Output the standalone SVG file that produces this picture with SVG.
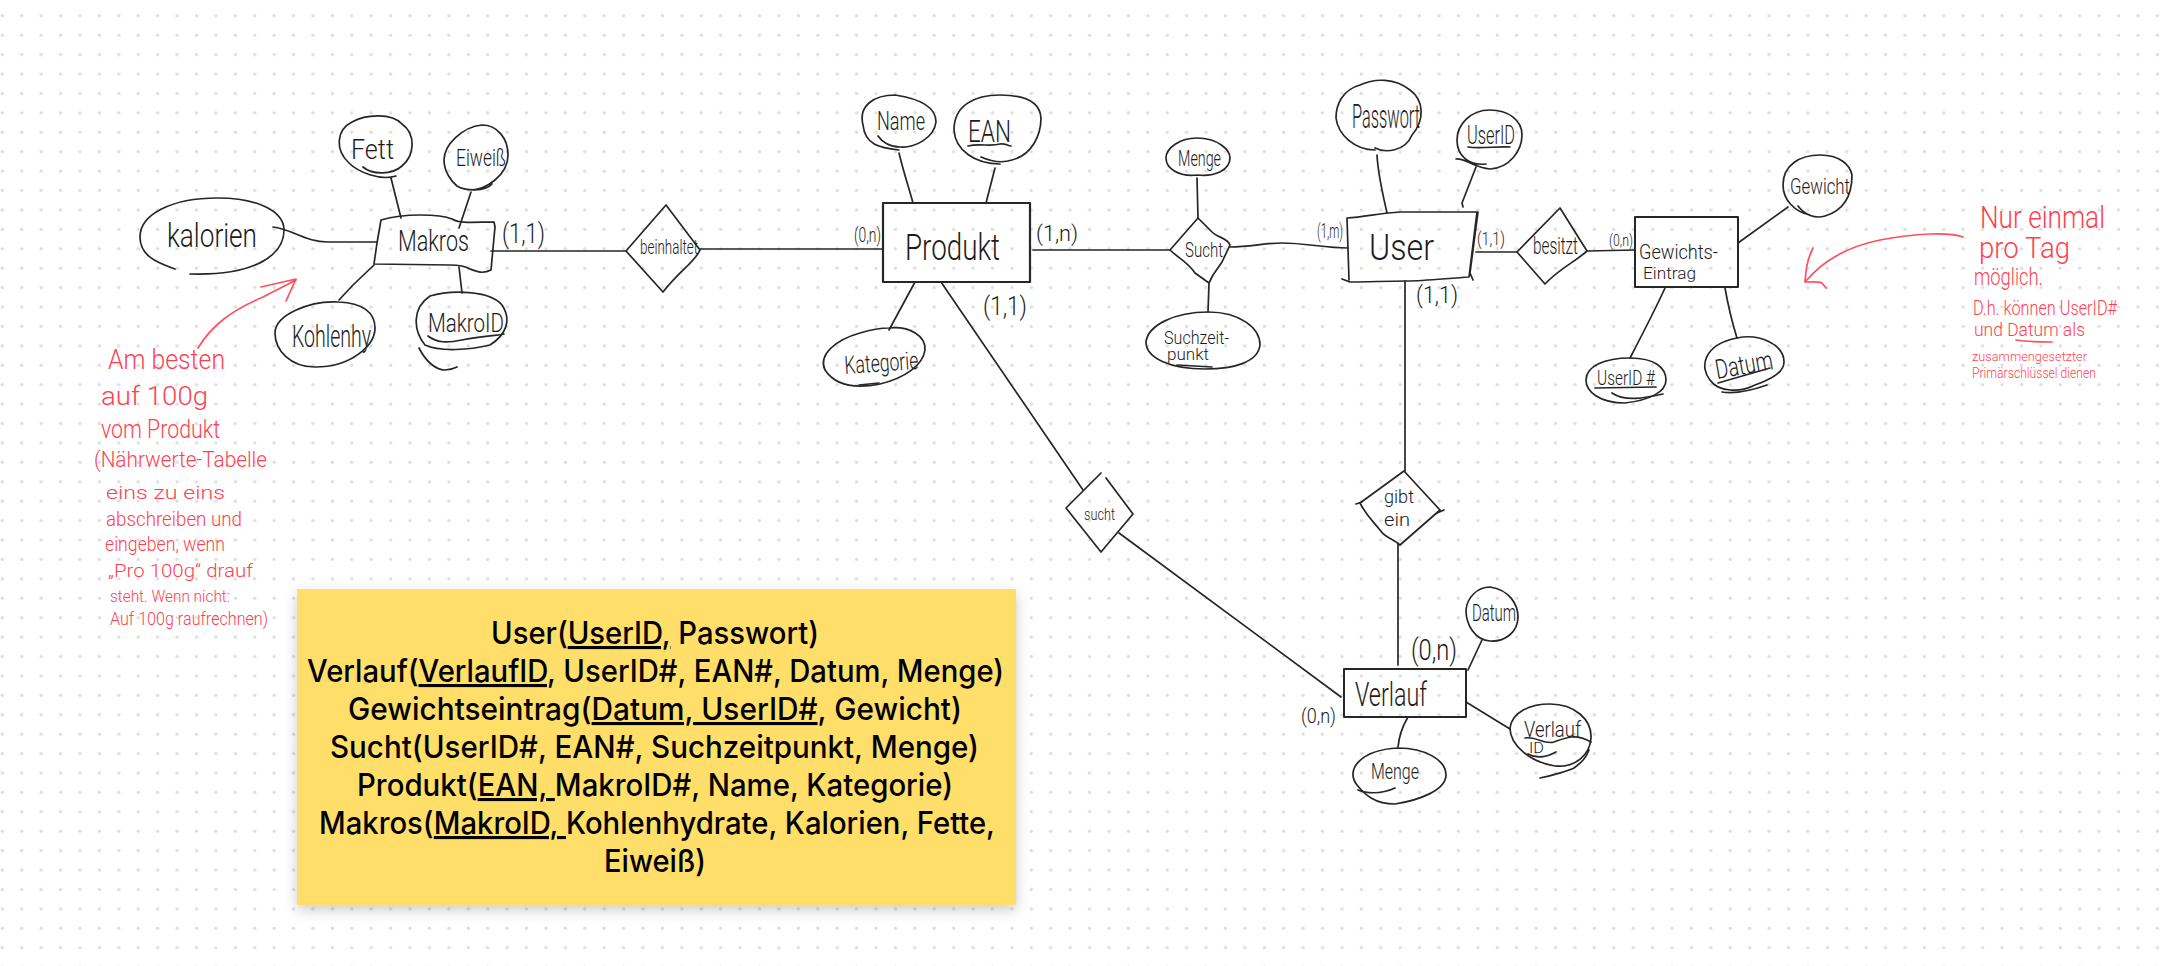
<svg xmlns="http://www.w3.org/2000/svg" width="2160" height="966" viewBox="0 0 2160 966">
<style>
.s{fill:none;stroke:#262626;stroke-width:1.7;stroke-linecap:round;stroke-linejoin:round}
.r{fill:none;stroke:#ff4f5e;stroke-width:1.7;stroke-linecap:round;stroke-linejoin:round}
.t{font-family:Roboto,"Liberation Sans",Arial,sans-serif;font-weight:300;fill:#1c1c1c}
.n{font-family:Roboto,"Liberation Sans",Arial,sans-serif;font-weight:300;fill:#ff3f50}
.c{font-family:Inter,"Liberation Sans",sans-serif;font-weight:500;font-size:31px;fill:#000;text-anchor:start}
.u{text-decoration:underline}
</style>
<defs>
<pattern id="dots" patternUnits="userSpaceOnUse" width="19.415" height="19.415"><circle cx="2.3" cy="15.75" r="1.7" fill="#dedede"/></pattern>
<filter id="sh" x="-5%" y="-8%" width="110%" height="120%"><feDropShadow dx="0" dy="5" stdDeviation="7" flood-color="#000" flood-opacity=".2"/></filter>
</defs>
<rect width="2160" height="966" fill="#fff"/>
<rect width="2160" height="966" fill="url(#dots)"/>

<g id="connectors">
<path class="s" d="M273 227C292 229 305 242 328 242L377 242"/>
<path class="s" d="M391 178L401 218"/>
<path class="s" d="M471 192L459 228"/>
<path class="s" d="M374 265L353 285L339 300"/>
<path class="s" d="M459 267L462 293"/>
<path class="s" d="M491 251L626 251"/>
<path class="s" d="M700 249L883 249"/>
<path class="s" d="M899 153C903 170 908 185 913 203"/>
<path class="s" d="M995 168L986 203"/>
<path class="s" d="M915 282L889 330"/>
<path class="s" d="M1033 250L1170 250"/>
<path class="s" d="M1197 178L1198 218"/>
<path class="s" d="M1209 283L1208 312"/>
<path class="s" d="M1230 247C1250 247 1265 243 1282 243C1305 243 1325 248 1348 248"/>
<path class="s" d="M1377 155C1378 175 1383 195 1387 213"/>
<path class="s" d="M1476 167L1462 203L1463 207"/>
<path class="s" d="M1476 252L1517 252"/>
<path class="s" d="M1587 251L1635 250"/>
<path class="s" d="M1738 243L1788 207"/>
<path class="s" d="M1665 288C1655 310 1642 335 1630 358"/>
<path class="s" d="M1725 288C1728 305 1732 322 1737 338"/>
<path class="s" d="M941 282L1083 490"/>
<path class="s" d="M1119 533L1341 697"/>
<path class="s" d="M1405 281L1405 471"/>
<path class="s" d="M1398 543L1398 665"/>
<path class="s" d="M1482 640L1468 670"/>
<path class="s" d="M1466 702L1510 729"/>
<path class="s" d="M1408 717C1402 727 1399 737 1398 747"/>
</g>

<g id="makros">
<path class="s" d="M381 220C395 216 405 215 420 215C435 215 445 216 452 219C460 224 475 222 494 222L495 227L491 270C483 274 478 272 470 269C465 266 460 265 450 265L374 264L377 243L381 220Z"/>
<text class="t" x="398" y="251" font-size="29" textLength="71" lengthAdjust="spacingAndGlyphs">Makros</text>
</g>
<g id="kalorien">
<path class="s" d="M175 269C155 262 140 255 140 237C140 215 170 198 218 198C255 198 284 210 284 230C284 255 255 276 190 274"/>
<text class="t" x="167" y="247" font-size="33" textLength="90" lengthAdjust="spacingAndGlyphs">kalorien</text>
</g>
<g id="fett">
<path class="s" d="M363 167C372 175 392 175 402 166C415 155 416 134 402 124C392 113 366 114 352 122C336 130 335 150 349 163C358 172 380 181 396 176"/>
<text class="t" x="351" y="159" font-size="28" textLength="43" lengthAdjust="spacingAndGlyphs">Fett</text>
</g>
<g id="eiweiss">
<path class="s" d="M470 190C486 190 508 175 508 155C508 138 497 125 482 125C462 127 444 145 444 160C444 172 452 182 457 186C465 191 485 192 492 184"/>
<text class="t" x="456" y="166" font-size="23" textLength="50" lengthAdjust="spacingAndGlyphs">Eiweiß</text>
</g>
<g id="kohlenhy">
<path class="s" d="M339 302C362 303 375 312 375 328C375 345 352 367 315 367C290 367 275 350 275 333C275 315 310 300 339 302Z"/>
<text class="t" x="292" y="347" font-size="32" textLength="79" lengthAdjust="spacingAndGlyphs">Kohlenhy</text>
</g>
<g id="makroid">
<path class="s" d="M430 296C450 290 490 290 502 305C512 320 506 335 490 345C470 350 440 352 425 345C413 330 412 308 430 296Z"/>
<path class="s" d="M419 348C425 360 435 370 445 370C450 370 455 368 457 367M428 336C437 343 447 343 462 340C480 336 495 336 504 334"/>
<text class="t" x="428" y="332" font-size="26" textLength="76" lengthAdjust="spacingAndGlyphs">MakroID</text>
</g>
<g id="beinhaltet">
<path class="s" d="M666 205L700 250C695 262 680 270 663 292L626 251L666 205Z"/>
<text class="t" x="640" y="254" font-size="20" textLength="58" lengthAdjust="spacingAndGlyphs">beinhaltet</text>
</g>
<g id="produkt">
<rect class="s" x="883" y="203" width="147" height="79" style="stroke-width:2.2"/>
<text class="t" x="905" y="260" font-size="37" textLength="95" lengthAdjust="spacingAndGlyphs">Produkt</text>
</g>
<g id="name">
<path class="s" d="M899 150C880 148 865 145 863 125C858 105 875 95 895 95C915 98 936 105 936 122C934 138 915 148 900 147C890 147 882 142 878 136"/>
<text class="t" x="877" y="130" font-size="25" textLength="48" lengthAdjust="spacingAndGlyphs">Name</text>
</g>
<g id="ean">
<path class="s" d="M981 157C990 161 1000 164 1012 160C1032 155 1041 135 1041 118C1040 102 1025 95 1000 95C975 95 954 105 954 130C955 150 975 164 1000 164"/>
<path class="s" d="M968 146C980 143 990 147 1000 144C1005 143 1008 146 1011 146"/>
<text class="t" x="968" y="142" font-size="31" textLength="43" lengthAdjust="spacingAndGlyphs">EAN</text>
</g>
<g id="kategorie">
<path class="s" d="M889 328C910 326 926 336 925 350C923 365 905 378 880 384C855 389 835 385 825 370C818 355 835 340 860 333C870 330 880 328 889 328Z"/>
<path class="s" d="M859 385L879 383"/>
<text class="t" x="845" y="374" font-size="25" textLength="74" lengthAdjust="spacingAndGlyphs" transform="rotate(-4 845 374)">Kategorie</text>
</g>
<g id="sucht">
<path class="s" d="M1198 218L1212 232C1218 238 1228 238 1230 245L1222 262L1213 275L1209 283L1195 273C1188 262 1178 258 1170 250L1198 218Z"/>
<text class="t" x="1185" y="257" font-size="20" textLength="38" lengthAdjust="spacingAndGlyphs">Sucht</text>
</g>
<g id="menge-sucht">
<path class="s" d="M1197 138C1218 138 1230 150 1230 158C1230 170 1215 177 1197 175C1178 177 1166 168 1166 158C1166 148 1180 138 1197 138Z"/>
<text class="t" x="1178" y="166" font-size="22" textLength="43" lengthAdjust="spacingAndGlyphs">Menge</text>
</g>
<g id="suchzeitpunkt">
<path class="s" d="M1208 312C1240 312 1260 328 1260 345C1258 362 1235 369 1205 369C1170 369 1146 358 1146 342C1148 325 1175 312 1208 312Z"/>
<path class="s" d="M1177 365L1212 367"/>
<text class="t" x="1164" y="344" font-size="18" textLength="65" lengthAdjust="spacingAndGlyphs">Suchzeit-</text>
<text class="t" x="1167" y="360" font-size="16" textLength="42" lengthAdjust="spacingAndGlyphs">punkt</text>
</g>
<g id="user">
<path class="s" d="M1347 218C1365 217 1380 213 1400 212L1478 212L1470 273L1473 280M1469 277C1450 278 1425 281 1407 281C1385 281 1370 282 1350 282L1342 279M1347 218L1349 280M1477 212L1469 277"/>
<text class="t" x="1369" y="260" font-size="36" textLength="65" lengthAdjust="spacingAndGlyphs">User</text>
</g>
<g id="passwort">
<path class="s" d="M1375 148C1385 153 1405 152 1412 135C1425 120 1424 100 1410 90C1395 78 1375 78 1360 85C1342 90 1336 105 1336 118C1338 135 1355 150 1375 150"/>
<text class="t" x="1352" y="128" font-size="33" textLength="68" lengthAdjust="spacingAndGlyphs">Passwort</text>
</g>
<g id="userid">
<path class="s" d="M1456 159C1465 158 1475 168 1490 169C1510 168 1522 150 1522 135C1522 120 1508 110 1490 110C1470 110 1457 125 1457 140C1457 155 1468 166 1486 164"/>
<path class="s" d="M1468 147C1480 149 1498 146 1510 147"/>
<text class="t" x="1467" y="144" font-size="26" textLength="48" lengthAdjust="spacingAndGlyphs">UserID</text>
</g>
<g id="besitzt">
<path class="s" d="M1560 208L1587 251C1575 262 1560 268 1545 284L1517 252L1560 208Z"/>
<text class="t" x="1533" y="254" font-size="24" textLength="45" lengthAdjust="spacingAndGlyphs">besitzt</text>
</g>
<g id="gewichtseintrag">
<rect class="s" x="1635" y="217" width="103" height="70" style="stroke-width:2"/>
<text class="t" x="1639" y="259" font-size="20" textLength="79" lengthAdjust="spacingAndGlyphs">Gewichts-</text>
<text class="t" x="1643" y="279" font-size="17" textLength="53" lengthAdjust="spacingAndGlyphs">Eintrag</text>
</g>
<g id="gewicht">
<path class="s" d="M1798 206C1805 215 1815 219 1825 216C1845 210 1852 195 1852 175C1850 165 1840 155 1820 155C1800 155 1783 165 1783 185C1783 200 1795 212 1810 215"/>
<text class="t" x="1790" y="194" font-size="22" textLength="60" lengthAdjust="spacingAndGlyphs">Gewicht</text>
</g>
<g id="userid-fk">
<path class="s" d="M1630 358C1655 358 1666 368 1666 380C1666 392 1650 400 1625 403C1600 403 1586 392 1586 380C1586 366 1605 358 1630 358Z"/>
<path class="s" d="M1612 393C1625 402 1645 398 1663 394M1595 388L1656 387"/>
<text class="t" x="1597" y="385" font-size="20" textLength="58" lengthAdjust="spacingAndGlyphs">UserID #</text>
</g>
<g id="datum-gewicht">
<path class="s" d="M1737 338C1760 333 1784 345 1784 362C1784 372 1770 380 1755 385C1740 393 1718 392 1710 380C1700 368 1702 345 1737 338Z"/>
<path class="s" d="M1722 392C1735 394 1750 391 1767 385M1718 383L1770 368"/>
<text class="t" x="1717" y="379" font-size="27" textLength="58" lengthAdjust="spacingAndGlyphs" transform="rotate(-10 1717 379)">Datum</text>
</g>
<g id="sucht-rel">
<path class="s" d="M1101 473L1066 508L1101 552L1133 514L1106 478"/>
<text class="t" x="1084" y="520" font-size="17" textLength="31" lengthAdjust="spacingAndGlyphs">sucht</text>
</g>
<g id="gibt-ein">
<path class="s" d="M1404 471L1440 510L1400 545C1392 538 1385 538 1380 530C1372 520 1366 515 1360 503L1404 471M1356 504L1362 502M1437 513L1444 510"/>
<text class="t" x="1384" y="503" font-size="18" textLength="30" lengthAdjust="spacingAndGlyphs">gibt</text>
<text class="t" x="1384" y="526" font-size="19" textLength="26" lengthAdjust="spacingAndGlyphs">ein</text>
</g>
<g id="verlauf">
<rect class="s" x="1344" y="669" width="122" height="48" style="stroke-width:2"/>
<text class="t" x="1355" y="706" font-size="33" textLength="72" lengthAdjust="spacingAndGlyphs">Verlauf</text>
</g>
<g id="datum-verlauf">
<path class="s" d="M1490 587C1510 590 1518 605 1518 617C1518 632 1505 642 1490 641C1475 640 1466 625 1466 610C1467 598 1477 587 1490 587Z"/>
<text class="t" x="1472" y="621" font-size="24" textLength="44" lengthAdjust="spacingAndGlyphs">Datum</text>
</g>
<g id="verlaufid">
<path class="s" d="M1550 704C1575 704 1592 720 1591 738C1590 755 1575 768 1555 766C1530 762 1510 745 1510 728C1512 712 1530 704 1550 704Z"/>
<path class="s" d="M1525 738C1535 736 1545 745 1554 742C1565 738 1575 733 1591 742M1540 778C1555 775 1570 770 1574 768C1582 762 1586 758 1589 750M1528 754C1535 758 1545 758 1556 752"/>
<text class="t" x="1524" y="737" font-size="22" textLength="57" lengthAdjust="spacingAndGlyphs">Verlauf</text>
<text class="t" x="1529" y="753" font-size="15" textLength="15" lengthAdjust="spacingAndGlyphs">ID</text>
</g>
<g id="menge-verlauf">
<path class="s" d="M1398 748C1425 748 1446 760 1446 775C1446 790 1420 800 1395 804C1375 804 1365 795 1357 785C1345 770 1360 750 1398 748Z"/>
<path class="s" d="M1358 790C1365 793 1380 795 1395 788"/>
<text class="t" x="1371" y="779" font-size="22" textLength="48" lengthAdjust="spacingAndGlyphs">Menge</text>
</g>

<g id="cardinalities">
<text class="t" x="502" y="243" font-size="27" textLength="43" lengthAdjust="spacingAndGlyphs">(1,1)</text>
<text class="t" x="854" y="242" font-size="21" textLength="27" lengthAdjust="spacingAndGlyphs">(0,n)</text>
<text class="t" x="1036" y="241" font-size="22" textLength="42" lengthAdjust="spacingAndGlyphs">(1,n)</text>
<text class="t" x="983" y="315" font-size="26" textLength="44" lengthAdjust="spacingAndGlyphs">(1,1)</text>
<text class="t" x="1317" y="238" font-size="20" textLength="26" lengthAdjust="spacingAndGlyphs">(1,m)</text>
<text class="t" x="1477" y="245" font-size="18" textLength="28" lengthAdjust="spacingAndGlyphs">(1,1)</text>
<text class="t" x="1609" y="246" font-size="17" textLength="24" lengthAdjust="spacingAndGlyphs">(0,n)</text>
<text class="t" x="1416" y="303" font-size="24" textLength="42" lengthAdjust="spacingAndGlyphs">(1,1)</text>
<text class="t" x="1411" y="660" font-size="30" textLength="46" lengthAdjust="spacingAndGlyphs">(0,n)</text>
<text class="t" x="1301" y="723" font-size="21" textLength="35" lengthAdjust="spacingAndGlyphs">(0,n)</text>
</g>

<g id="note-left">
<path class="r" d="M198 348C212 325 232 310 263 297L296 280M261 287L296 279L286 301"/>
<text class="n" x="108" y="369" font-size="27" textLength="117" lengthAdjust="spacingAndGlyphs">Am besten</text>
<text class="n" x="101" y="405" font-size="26" textLength="107" lengthAdjust="spacingAndGlyphs">auf 100g</text>
<text class="n" x="101" y="438" font-size="25" textLength="119" lengthAdjust="spacingAndGlyphs">vom Produkt</text>
<text class="n" x="94" y="467" font-size="22" textLength="173" lengthAdjust="spacingAndGlyphs">(Nährwerte-Tabelle</text>
<text class="n" x="106" y="499" font-size="19" textLength="119" lengthAdjust="spacingAndGlyphs">eins zu eins</text>
<text class="n" x="106" y="526" font-size="20" textLength="136" lengthAdjust="spacingAndGlyphs">abschreiben und</text>
<text class="n" x="105" y="551" font-size="20" textLength="120" lengthAdjust="spacingAndGlyphs">eingeben, wenn</text>
<text class="n" x="108" y="577" font-size="18" textLength="145" lengthAdjust="spacingAndGlyphs">„Pro 100g“ drauf</text>
<text class="n" x="110" y="602" font-size="16" textLength="120" lengthAdjust="spacingAndGlyphs">steht. Wenn nicht:</text>
<text class="n" x="110" y="625" font-size="19" textLength="158" lengthAdjust="spacingAndGlyphs">Auf 100g raufrechnen)</text>
</g>

<g id="note-right">
<path class="r" d="M1963 237C1950 232 1915 233 1880 240C1850 246 1825 258 1805 282M1813 248C1806 262 1806 272 1805 282C1812 282 1818 281 1822 283L1826 288"/>
<path class="r" d="M2016 340C2028 342 2040 342 2052 342"/>
<text class="n" x="1980" y="228" font-size="32" textLength="125" lengthAdjust="spacingAndGlyphs">Nur einmal</text>
<text class="n" x="1979" y="258" font-size="30" textLength="91" lengthAdjust="spacingAndGlyphs">pro Tag</text>
<text class="n" x="1974" y="285" font-size="23" textLength="69" lengthAdjust="spacingAndGlyphs">möglich.</text>
<text class="n" x="1973" y="315" font-size="21" textLength="144" lengthAdjust="spacingAndGlyphs">D.h. können UserID#</text>
<text class="n" x="1974" y="336" font-size="19" textLength="111" lengthAdjust="spacingAndGlyphs">und Datum als</text>
<text class="n" x="1972" y="361" font-size="13" textLength="115" lengthAdjust="spacingAndGlyphs">zusammengesetzter</text>
<text class="n" x="1972" y="378" font-size="14" textLength="124" lengthAdjust="spacingAndGlyphs">Primärschlüssel dienen</text>
</g>

<g id="schema-card">
<rect x="297" y="589" width="719" height="316" fill="#ffde69" filter="url(#sh)"/>
<text class="c" x="491" y="644" textLength="328" lengthAdjust="spacingAndGlyphs">User(<tspan class="u">UserID,</tspan> Passwort)</text>
<text class="c" x="307" y="682" textLength="697" lengthAdjust="spacingAndGlyphs">Verlauf(<tspan class="u">VerlaufID</tspan>, UserID#, EAN#, Datum, Menge)</text>
<text class="c" x="348" y="720" textLength="614" lengthAdjust="spacingAndGlyphs">Gewichtseintrag(<tspan class="u">Datum, UserID#</tspan>, Gewicht)</text>
<text class="c" x="330" y="758" textLength="649" lengthAdjust="spacingAndGlyphs">Sucht(UserID#, EAN#, Suchzeitpunkt, Menge)</text>
<text class="c" x="357" y="796" textLength="596" lengthAdjust="spacingAndGlyphs">Produkt(<tspan class="u">EAN, </tspan>MakroID#, Name, Kategorie)</text>
<text class="c" x="319" y="834" textLength="676" lengthAdjust="spacingAndGlyphs">Makros(<tspan class="u">MakroID, </tspan>Kohlenhydrate, Kalorien, Fette,</text>
<text class="c" x="604" y="872" textLength="102" lengthAdjust="spacingAndGlyphs">Eiweiß)</text>
</g>
</svg>
